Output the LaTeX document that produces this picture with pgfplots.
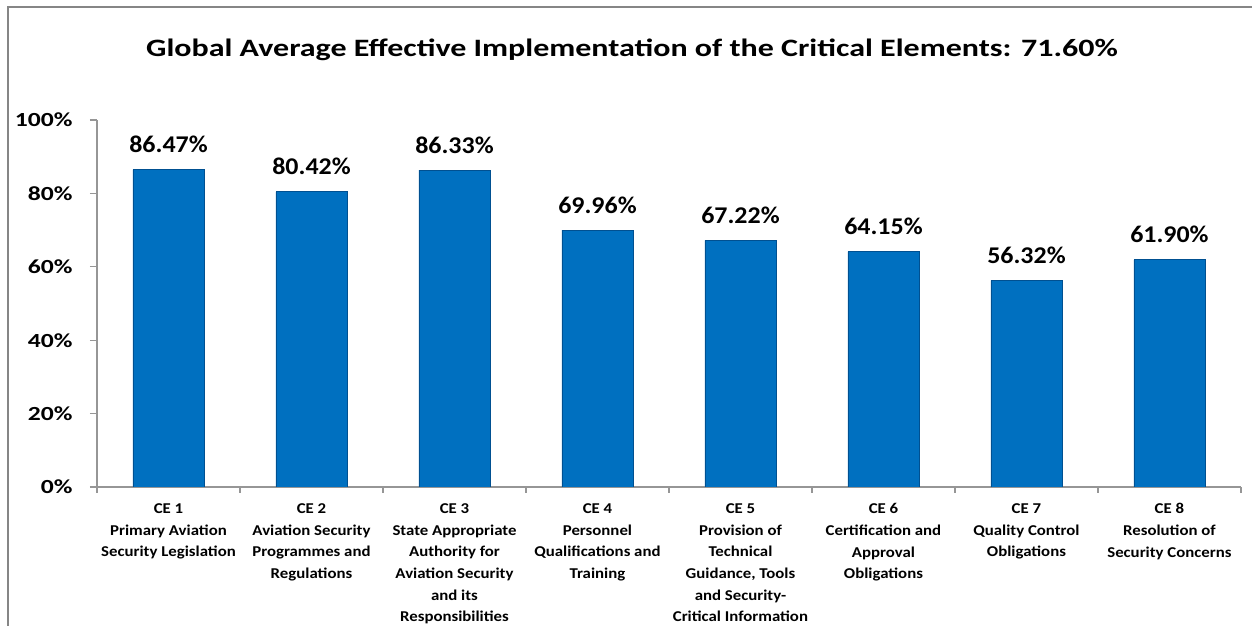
\documentclass[border=0pt]{standalone}
\usepackage{fontspec}
\setmainfont{Carlito}
\newfontfamily\titlefont[FakeStretch=1.28]{Carlito}
\newfontfamily\tickfont[FakeStretch=1.28]{Carlito}
\newfontfamily\catfont[FakeStretch=1.12]{Carlito}
\newfontfamily\labfont[FakeStretch=1.08]{Carlito}
\usepackage{pgfplots}
\pgfplotsset{compat=1.18}
\definecolor{framegray}{RGB}{134,134,134}
\definecolor{axisgray}{RGB}{150,150,150}
\definecolor{barblue}{RGB}{0,112,192}
\definecolor{baredge}{RGB}{0,80,145}
\pgfdeclarehorizontalshading{barshade}{100bp}{color(0bp)=(baredge); color(6bp)=(barblue); color(94bp)=(barblue); color(100bp)=(baredge)}
\begin{document}
\begin{tikzpicture}[x=1pt,y=1pt]
\useasboundingbox (0,0) rectangle (1252,626);
\draw[line width=1.5pt, framegray] (8,0) -- (8,619) -- (1252,619);
\node[font=\fontsize{25}{30}\titlefont\bfseries] at (632,576) {Global Average Effective Implementation of the Critical Elements: 71.60\%};
\begin{axis}[
  at={(97pt,139pt)}, anchor=south west,
  scale only axis, width=1144pt, height=367pt,
  xmin=-0.5, xmax=7.5, ymin=0, ymax=100,
  axis lines*=left,
  axis line style={axisgray, line width=1.2pt, -},
  ytick={0,20,...,100},
  yticklabel={\pgfmathprintnumber{\tick}\%},
  /pgf/number format/assume math mode=true,
  yticklabel style={font=\fontsize{20}{24}\tickfont\bfseries, xshift=-14pt},
  tick align=outside,
  major tick length=7pt,
  minor tick length=6pt,
  every tick/.style={axisgray, line width=1.2pt},
  xtick={0,...,7},
  major x tick style={draw=none},
  minor xtick={-0.5,0.5,...,7.5},
  xticklabels={
    {CE 1\\Primary Aviation\\Security Legislation},
    {CE 2\\Aviation Security\\Programmes and\\Regulations},
    {CE 3\\State Appropriate\\Authority for\\Aviation Security\\and its\\Responsibilities},
    {CE 4\\Personnel\\Qualifications and\\Training},
    {CE 5\\Provision of\\Technical\\Guidance, Tools\\and Security-\\Critical Information},
    {CE 6\\Certification and\\Approval\\Obligations},
    {CE 7\\Quality Control\\Obligations},
    {CE 8\\Resolution of\\Security Concerns}},
  xticklabel style={font=\fontsize{15}{21.7}\catfont\bfseries, align=center, anchor=north, yshift=-6pt},
  ybar, bar width=71pt,
  nodes near coords={\pgfmathprintnumber[fixed,fixed zerofill,precision=2]{\pgfplotspointmeta}\%},
  every node near coord/.append style={font=\fontsize{24}{28}\labfont\bfseries, anchor=base, yshift=17pt},
]
\addplot[shading=barshade, draw=baredge, line width=0.8pt] coordinates {
  (0,86.47) (1,80.42) (2,86.33) (3,69.96) (4,67.22) (5,64.15) (6,56.32) (7,61.90)};
\end{axis}
\end{tikzpicture}
\end{document}
